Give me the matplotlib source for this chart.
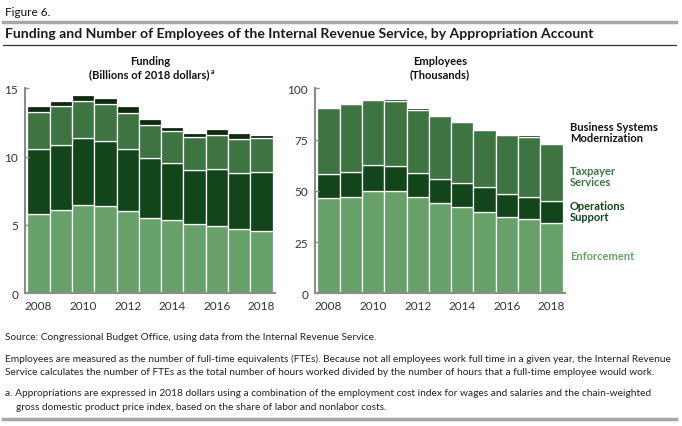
import matplotlib
matplotlib.use("Agg")
import matplotlib.pyplot as plt
import numpy as np

years = list(range(2008, 2019))

# funding, billions of 2018 dollars (segment heights)
fund_enforcement = [5.83, 6.12, 6.49, 6.42, 6.05, 5.54, 5.39, 5.10, 4.95, 4.73, 4.58]
fund_operations = [4.72, 4.73, 4.86, 4.70, 4.50, 4.33, 4.11, 3.89, 4.11, 4.04, 4.26]
fund_taxpayer = [2.71, 2.85, 2.72, 2.73, 2.63, 2.43, 2.38, 2.45, 2.53, 2.50, 2.51]
fund_bsm = [0.44, 0.37, 0.43, 0.43, 0.52, 0.45, 0.28, 0.26, 0.44, 0.47, 0.24]

# employees, thousands (segment heights)
emp_enforcement = [46.5, 47.0, 49.9, 49.9, 47.0, 44.1, 42.1, 39.7, 37.2, 36.3, 34.3]
emp_operations = [11.7, 12.2, 12.7, 12.2, 11.7, 11.7, 11.7, 12.2, 11.3, 10.7, 10.7]
emp_taxpayer = [32.2, 33.3, 31.9, 31.7, 30.7, 30.7, 29.9, 27.9, 28.7, 29.3, 27.8]
emp_bsm = [0.5, 0.5, 0.3, 1.2, 1.2, 0.5, 0.4, 0.4, 0.5, 0.9, 0.5]

accounts = ["Enforcement", "Operations\nSupport", "Taxpayer\nServices",
            "Business Systems\nModernization"]
colors = ["#68a06a", "#12461a", "#3e7442", "#0e2a10"]
label_colors = ["#68a06a", "#12461a", "#3e7442", "#111111"]

notes = [
    (5, 338, "Source: Congressional Budget Office, using data from the Internal Revenue Service."),
    (5, 359, "Employees are measured as the number of full-time equivalents (FTEs). Because not "
             "all employees work full time in a given year, the Internal Revenue"),
    (5, 373, "Service calculates the number of FTEs as the total number of hours worked divided "
             "by the number of hours that a full-time employee would work."),
    (5, 394, "a. Appropriations are expressed in 2018 dollars using a combination of the "
             "employment cost index for wages and salaries and the chain-weighted"),
    (16, 408, "gross domestic product price index, based on the share of labor and nonlabor costs."),
]

plt.rcParams["font.family"] = ["Lato", "DejaVu Sans"]

fig = plt.figure(figsize=(6.82, 4.27), dpi=100)
fig.patch.set_facecolor("white")
W, H = 682, 427
renderer = fig.canvas.get_renderer()


def fx(px):
    return px / W


def fy(py):
    return 1 - py / H


def fit_size(s, width_px, size, **kw):
    # font size at which s spans about width_px
    t = fig.text(0, 0, s, fontsize=size, **kw)
    w = t.get_window_extent(renderer).width
    t.remove()
    return size * width_px / w


def draw_panel(ax, series, ymax, yticks):
    x = np.arange(len(years))
    bottom = np.zeros(len(years))
    for vals, c in zip(series, colors):
        ax.bar(x, vals, 1.0, bottom=bottom, color=c, edgecolor="white", linewidth=0.9)
        bottom += np.array(vals)
    ax.set_xlim(-0.6, len(years) - 0.4)
    ax.set_ylim(0, ymax)
    ax.set_yticks(yticks)
    ax.set_xticks(x[::2])
    ax.set_xticklabels([str(y) for y in years[::2]])
    for s in ["top", "right"]:
        ax.spines[s].set_visible(False)
    for s in ["left", "bottom"]:
        ax.spines[s].set_color("#8c8c8c")
        ax.spines[s].set_linewidth(1.5)
    ax.tick_params(axis="x", length=0, labelsize=8.5, colors="#333333", pad=5)
    ax.tick_params(axis="y", direction="in", length=3, width=1, color="#8c8c8c",
                   labelsize=8.5, labelcolor="#333333", pad=5)


ax1 = fig.add_axes([fx(25), fy(294.3), fx(250), 205 / H])
draw_panel(ax1, [fund_enforcement, fund_operations, fund_taxpayer, fund_bsm],
           15, [0, 5, 10, 15])
ax2 = fig.add_axes([fx(315), fy(294.3), fx(250), 205 / H])
draw_panel(ax2, [emp_enforcement, emp_operations, emp_taxpayer, emp_bsm],
           100, [0, 25, 50, 75, 100])

# panel titles
hdr = dict(ha="center", va="center", fontsize=8, fontweight="bold", color="#111111")
fig.text(fx(150), fy(62), "Funding", **hdr)
sub = fig.text(fx(149.5), fy(75), "(Billions of 2018 dollars)", **hdr)
bb = sub.get_window_extent(renderer)
fig.text(bb.x1 / W + fx(1), fy(71), "a", ha="left", va="center",
         fontsize=5, fontweight="bold", color="#111111")
fig.text(fx(440), fy(62), "Employees", **hdr)
fig.text(fx(440), fy(75), "(Thousands)", **hdr)

# series labels
label_y = [257, 212, 177, 133]
for lab, c, yy in zip(accounts, label_colors, label_y):
    fig.text(fx(570), fy(yy), lab, ha="left", va="center", fontsize=8,
             fontweight="bold", color=c, linespacing=1.0)

# header
fig.text(fx(5), fy(12), "Figure 6.", ha="left", va="center", fontsize=8.5,
         color="#111111")
fig.add_artist(plt.Line2D([fx(3), fx(676)], [fy(23), fy(23)], color="#a6a6a6",
                          linewidth=2.5))
title = ("Funding and Number of Employees of the Internal Revenue Service, "
         "by Appropriation Account")
tsize = fit_size(title, 585, 11, fontweight="bold")
fig.text(fx(5), fy(34.5), title, ha="left", va="center", fontsize=tsize,
         fontweight="bold", color="#1a1a1a")
fig.add_artist(plt.Line2D([fx(3), fx(676)], [fy(46), fy(46)], color="#333333",
                          linewidth=0.9))

# notes, all at the size that makes the longest line fit
nsize = fit_size(notes[1][2], 663, 7.5)
for xx, yy, s in notes:
    fig.text(fx(xx), fy(yy), s, ha="left", va="center", fontsize=nsize, color="#222222")
fig.add_artist(plt.Line2D([fx(3), fx(676)], [fy(420), fy(420)], color="#a6a6a6",
                          linewidth=2.5))

fig.savefig("out.png", dpi=100, facecolor="white")
